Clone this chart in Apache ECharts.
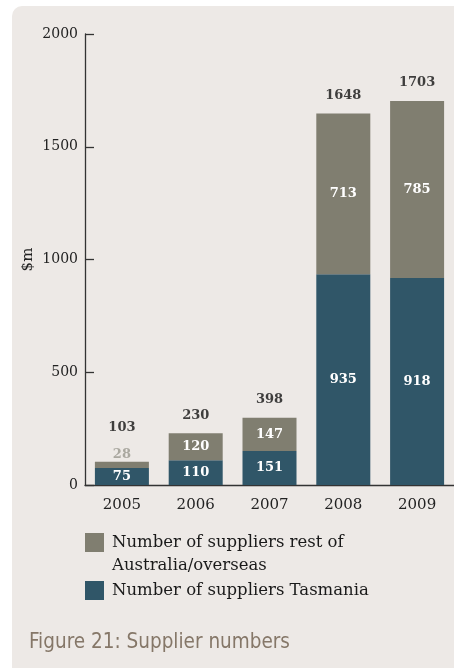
<!DOCTYPE html>
<html>
<head>
<meta charset="utf-8">
<script src="https://cdn.jsdelivr.net/npm/echarts@6/dist/echarts.min.js"></script>
<style>
  html, body { margin: 0; padding: 0; background: #ffffff; }
  #chart { width: 454px; height: 668px; }
</style>
</head>
<body>
<div id="chart"></div>
<script>
// Supplier spend by year, split by supplier location ($m)
const years = ['2005', '2006', '2007', '2008', '2009'];
const tasmania = [75, 110, 151, 935, 918];
const restOfAustralia = [28, 120, 147, 713, 785];
// Totals as printed above each column
const totals = [103, 230, 398, 1648, 1703];
const yTicks = [0, 500, 1000, 1500, 2000];

const NAME_REST = 'Number of suppliers rest of\nAustralia/overseas';
const NAME_TAS = 'Number of suppliers Tasmania';

const COLOR_TAS = '#305668';
const COLOR_REST = '#807e70';
const PANEL = '#ede9e6';
const SERIF = '"DejaVu Serif", "Liberation Serif", serif';

const stackTops = tasmania.map((v, i) => v + restOfAustralia[i]);

const chart = echarts.init(document.getElementById('chart'), null, { renderer: 'canvas' });

const option = {
  backgroundColor: '#ffffff',
  animation: false,
  graphic: [{
    type: 'rect',
    left: 12, top: 6, z: -10,
    shape: { width: 470, height: 700, r: [10, 0, 0, 0] },
    style: { fill: PANEL }
  }],
  title: {
    text: 'Figure 21: Supplier numbers',
    left: 29, top: 632,
    padding: 0,
    textStyle: {
      fontFamily: '"DejaVu Sans Condensed", Roboto, "Noto Sans", sans-serif',
      fontWeight: 'normal',
      fontSize: 20.5,
      color: '#857768'
    }
  },
  legend: {
    orient: 'vertical',
    left: 85, top: 508,
    padding: 0,
    itemWidth: 19, itemHeight: 19,
    itemGap: 2,
    icon: 'rect',
    selectedMode: false,
    textStyle: { fontFamily: SERIF, fontSize: 16.5, color: '#1a1a1a', lineHeight: 23, padding: [0, 0, 0, 3] },
    // a blank first line keeps the swatch level with the first line of a wrapped name
    formatter: name => (name.indexOf('\n') >= 0 ? ' \n' + name : name),
    data: [NAME_REST, NAME_TAS]
  },
  grid: { left: 85, right: -6, top: 34, bottom: 183, containLabel: false },
  xAxis: {
    type: 'category',
    data: years,
    boundaryGap: true,
    axisLine: { lineStyle: { color: '#333', width: 1.3 } },
    axisTick: { inside: true, length: 10, lineStyle: { color: '#333', width: 1.3 } },
    axisLabel: { margin: 13, fontFamily: SERIF, fontSize: 15, color: '#222' }
  },
  yAxis: {
    type: 'value',
    min: yTicks[0], max: yTicks[yTicks.length - 1], interval: 500,
    name: '$m',
    nameLocation: 'middle',
    nameGap: 49,
    nameRotate: 90,
    nameMoveOverlap: false,
    nameTextStyle: { fontFamily: SERIF, fontSize: 15, color: '#222' },
    splitLine: { show: false },
    axisLine: { show: true, lineStyle: { color: '#333', width: 1.3 } },
    axisTick: { show: true, inside: true, length: 9, lineStyle: { color: '#333', width: 1.3 } },
    axisLabel: { margin: 7, fontFamily: SERIF, fontSize: 14, color: '#222', formatter: v => String(v) }
  },
  series: [
    {
      name: NAME_TAS,
      type: 'bar',
      stack: 'suppliers',
      barWidth: 54,
      itemStyle: { color: COLOR_TAS },
      label: {
        show: true, position: 'inside',
        fontFamily: SERIF, fontWeight: 'bold', fontSize: 13, color: '#ffffff'
      },
      data: tasmania
    },
    {
      name: NAME_REST,
      type: 'bar',
      stack: 'suppliers',
      barWidth: 54,
      itemStyle: { color: COLOR_REST },
      label: {
        show: true, position: 'inside',
        fontFamily: SERIF, fontWeight: 'bold', fontSize: 13, color: '#ffffff'
      },
      data: restOfAustralia.map((v, i) => (
        i === 0
          ? { value: v, label: { position: 'top', distance: 1, color: '#aaa8a0' } }
          : v
      ))
    },
    {
      name: 'totals',
      type: 'scatter',
      symbolSize: 1,
      itemStyle: { color: 'rgba(0,0,0,0)' },
      silent: true,
      label: {
        show: true, position: 'top', distance: 11,
        fontFamily: SERIF, fontWeight: 'bold', fontSize: 13, color: '#111',
        formatter: p => String(totals[p.dataIndex])
      },
      data: stackTops.map((v, i) => (
        i === 0 ? { value: v, label: { distance: 27 } } : v
      ))
    }
  ]
};

chart.setOption(option);
</script>
</body>
</html>
